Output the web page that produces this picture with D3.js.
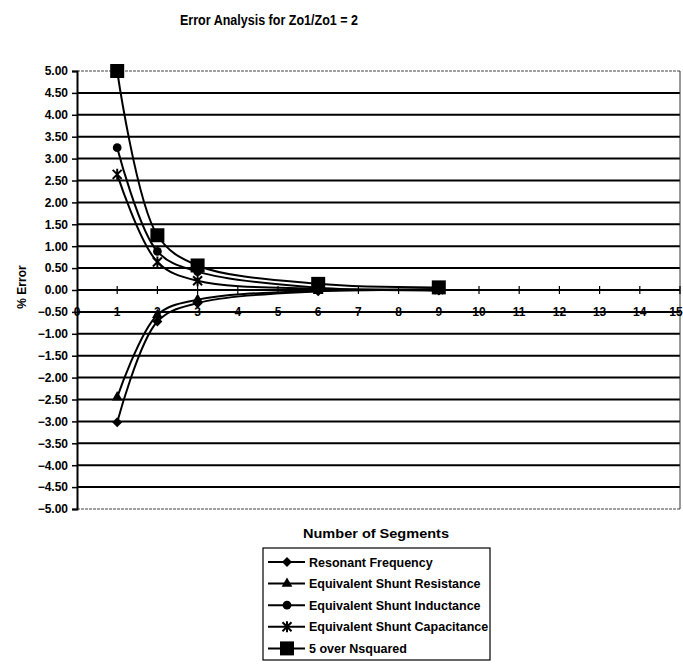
<!DOCTYPE html>
<html>
<head>
<meta charset="utf-8">
<script src="https://cdn.jsdelivr.net/npm/d3@7"></script>
<style>
  html, body { margin: 0; padding: 0; background: #fff; }
  svg { display: block; }
  text { font-family: "Liberation Sans", Arial, sans-serif; font-weight: bold; fill: #000; }
</style>
</head>
<body>
<svg id="chart" width="683" height="672"></svg>
<script>
// Number of segments used in the model
const segments = [1, 2, 3, 6, 9];

// Percent error of each quantity against the number of segments
const resonantFrequency = [-3.02, -0.72, -0.30, -0.03, -0.01];
const shuntResistance   = [-2.45, -0.57, -0.22, -0.02, -0.01];
const shuntInductance   = [3.25, 0.88, 0.42, 0.05, 0.02];
const shuntCapacitance  = [2.64, 0.64, 0.21, 0.03, 0.01];
const fiveOverNSquared  = [5.00, 1.25, 0.56, 0.14, 0.06];

const seriesNames = [
  "Resonant Frequency",
  "Equivalent Shunt Resistance",
  "Equivalent Shunt Inductance",
  "Equivalent Shunt Capacitance",
  "5 over Nsquared"
];
const seriesValues = [resonantFrequency, shuntResistance, shuntInductance, shuntCapacitance, fiveOverNSquared];
const markerShapes = ["diamond", "triangle", "circle", "star", "square"];

const xTicks = d3.range(0, 16);
const yTicks = d3.range(-5, 5.001, 0.5);

const svg = d3.select("#chart");

const plotLeft = 77, plotRight = 680, plotTop = 71, plotBottom = 509;
const x = d3.scaleLinear().domain([0, 15]).range([plotLeft, plotRight]);
const y = d3.scaleLinear().domain([-5, 5]).range([plotBottom, plotTop]);

// Title
svg.append("text")
  .attr("x", 269).attr("y", 25)
  .attr("text-anchor", "middle")
  .attr("font-size", 14.5)
  .attr("textLength", 178).attr("lengthAdjust", "spacingAndGlyphs")
  .text("Error Analysis for Zo1/Zo1 = 2");

// Horizontal gridlines
svg.append("g").selectAll("line")
  .data(yTicks)
  .join("line")
  .attr("x1", plotLeft).attr("x2", plotRight)
  .attr("y1", d => y(d)).attr("y2", d => y(d))
  .attr("stroke", d => (Math.abs(d) > 4.9 ? "#444" : "#000"))
  .attr("stroke-width", d => (Math.abs(d) > 4.9 ? 1.2 : 2))
  .attr("stroke-dasharray", d => (Math.abs(d) > 4.9 ? "3,1" : null));

// Right border of the plot area
svg.append("line")
  .attr("x1", plotRight).attr("x2", plotRight)
  .attr("y1", plotTop).attr("y2", plotBottom)
  .attr("stroke", "#333").attr("stroke-width", 1);

// Y axis
const yAxis = d3.axisLeft(y)
  .tickValues(yTicks)
  .tickSize(5)
  .tickPadding(4)
  .tickFormat(d => d3.format(".2f")(Math.abs(d) < 1e-9 ? 0 : d));
const gy = svg.append("g").attr("transform", `translate(${plotLeft},0)`).call(yAxis);
gy.select(".domain").attr("stroke", "#000").attr("stroke-width", 2);
gy.selectAll(".tick line").attr("stroke", "#000").attr("stroke-width", 1.5);
gy.selectAll(".tick text")
  .attr("font-size", 12)
  .attr("font-family", "Liberation Sans, Arial, sans-serif")
  .attr("font-weight", "bold");

// X axis line at zero with crossing tick marks
const gx = svg.append("g");
gx.append("line")
  .attr("x1", plotLeft).attr("x2", plotRight)
  .attr("y1", y(0)).attr("y2", y(0))
  .attr("stroke", "#000").attr("stroke-width", 2.2);
gx.selectAll("line.tk")
  .data(xTicks.slice(1))
  .join("line")
  .attr("class", "tk")
  .attr("x1", d => x(d)).attr("x2", d => x(d))
  .attr("y1", y(0) - 4).attr("y2", y(0) + 4)
  .attr("stroke", "#000").attr("stroke-width", 1.2);
gx.selectAll("text")
  .data(xTicks)
  .join("text")
  .attr("x", d => (d === 15 ? x(d) - 4 : x(d)))
  .attr("y", y(-0.5) + 4)
  .attr("text-anchor", "middle")
  .attr("font-size", 12)
  .text(d => d);

// Axis titles
svg.append("text")
  .attr("transform", `translate(26,${y(0) - 3}) rotate(-90)`)
  .attr("text-anchor", "middle")
  .attr("font-size", 12)
  .text("% Error");

svg.append("text")
  .attr("x", 376).attr("y", 538)
  .attr("text-anchor", "middle")
  .attr("font-size", 12.5)
  .attr("textLength", 146).attr("lengthAdjust", "spacingAndGlyphs")
  .text("Number of Segments");

// Marker drawing
function drawMarker(sel, shape) {
  const sym = {
    triangle: d3.symbol(d3.symbolTriangle, 50),
    circle: d3.symbol(d3.symbolCircle, 60),
    square: d3.symbol(d3.symbolSquare, 196)
  };
  if (shape === "star") {
    const s = 4.5;
    sel.append("path")
      .attr("d", `M${-s},${-s}L${s},${s}M${-s},${s}L${s},${-s}M0,${-s - 1}L0,${s + 1}`)
      .attr("stroke", "#000").attr("stroke-width", 2).attr("fill", "none");
  } else if (shape === "diamond") {
    const s = 5;
    sel.append("path")
      .attr("d", `M0,${-s}L${s},0L0,${s}L${-s},0Z`)
      .attr("fill", "#000");
  } else {
    sel.append("path").attr("d", sym[shape]()).attr("fill", "#000");
  }
}

// Series lines (smoothed) and markers
const line = d3.line()
  .x(d => x(d[0]))
  .y(d => y(d[1]))
  .curve(d3.curveCatmullRom.alpha(0.5));

seriesValues.forEach((vals, i) => {
  const pts = segments.map((n, j) => [n, vals[j]]);
  const g = svg.append("g");
  g.append("path")
    .attr("d", line(pts))
    .attr("fill", "none")
    .attr("stroke", "#000")
    .attr("stroke-width", 2);
  g.selectAll("g.m")
    .data(pts)
    .join("g")
    .attr("class", "m")
    .attr("transform", d => `translate(${x(d[0])},${y(d[1])})`)
    .each(function () { drawMarker(d3.select(this), markerShapes[i]); });
});

// Legend
const lg = svg.append("g");
lg.append("rect")
  .attr("x", 263).attr("y", 548)
  .attr("width", 227).attr("height", 112)
  .attr("fill", "#fff")
  .attr("stroke", "#000").attr("stroke-width", 1.2);

seriesNames.forEach((name, i) => {
  const cy = 562 + i * 21.6;
  const row = lg.append("g");
  row.append("line")
    .attr("x1", 268).attr("x2", 305)
    .attr("y1", cy).attr("y2", cy)
    .attr("stroke", "#000").attr("stroke-width", 2);
  const m = row.append("g").attr("transform", `translate(287,${cy})`);
  drawMarker(m, markerShapes[i]);
  row.append("text")
    .attr("x", 309).attr("y", cy + 4.5)
    .attr("font-size", 12.5)
    .text(name);
});
</script>
</body>
</html>
